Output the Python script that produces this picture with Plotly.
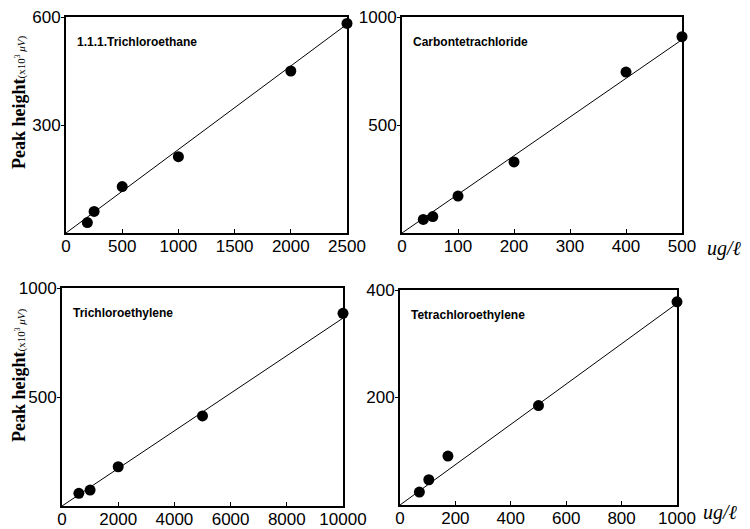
import plotly.graph_objects as go

# ---- data ----
tca_x = [190, 250, 500, 1000, 2000, 2500]
tca_y = [29, 60, 129, 212, 450, 582]
tca_fit_x = [0, 2500]
tca_fit_y = [0, 580]

ctc_x = [38, 55, 100, 200, 400, 500]
ctc_y = [63, 76, 171, 329, 745, 909]
ctc_fit_x = [0, 500]
ctc_fit_y = [0, 895]

tce_x = [600, 1000, 2000, 5000, 10000]
tce_y = [58, 73, 180, 413, 884]
tce_fit_x = [0, 10000]
tce_fit_y = [0, 862]

pce_x = [70, 104, 173, 500, 1000]
pce_y = [24, 47, 91, 185, 378]
pce_fit_x = [0, 1000]
pce_fit_y = [0, 375]

titles = ["1.1.1.Trichloroethane", "Carbontetrachloride", "Trichloroethylene", "Tetrachloroethylene"]
x_ticks = [[0, 500, 1000, 1500, 2000, 2500], [0, 100, 200, 300, 400, 500],
           [0, 2000, 4000, 6000, 8000, 10000], [0, 200, 400, 600, 800, 1000]]
y_ticks = [[300, 600], [500, 1000], [500, 1000], [200, 400]]
x_ranges = [[0, 2500], [0, 500], [0, 10000], [0, 1000]]
y_ranges = [[0, 600], [0, 1000], [0, 1000], [0, 400]]

# page body has an 8px margin; figure is sized to fit the window
OFF = 8
W, H = 750 - OFF, 529 - OFF
# pixel boxes in window coords: left, right, top, bottom
boxes = [(66, 347, 17, 233), (402, 682, 17, 233), (62, 343, 288, 506), (400, 677, 290, 505)]

def fx_(px):
    return (px - OFF) / W

def fy_(py):
    return 1 - (py - OFF) / H

series = [(tca_x, tca_y, tca_fit_x, tca_fit_y), (ctc_x, ctc_y, ctc_fit_x, ctc_fit_y),
          (tce_x, tce_y, tce_fit_x, tce_fit_y), (pce_x, pce_y, pce_fit_x, pce_fit_y)]

fig = go.Figure()
font_tick = dict(family="Liberation Sans, Arial, sans-serif", size=17, color="black")

for i, ((px, py, fx, fy), (l, r, t, b)) in enumerate(zip(series, boxes)):
    n = "" if i == 0 else str(i + 1)
    xa, ya = "x" + n, "y" + n
    fig.add_trace(go.Scatter(x=fx, y=fy, mode="lines", line=dict(color="black", width=1),
                             xaxis=xa, yaxis=ya, showlegend=False, hoverinfo="skip"))
    fig.add_trace(go.Scatter(x=px, y=py, mode="markers", marker=dict(color="black", size=11),
                             xaxis=xa, yaxis=ya, showlegend=False, cliponaxis=False))
    fig.layout["xaxis" + n] = dict(
        domain=[fx_(l), fx_(r)], range=x_ranges[i], anchor=ya, tickvals=x_ticks[i],
        ticktext=[str(v) for v in x_ticks[i]], automargin=False, ticklabeloverflow="allow",
        showgrid=False, zeroline=False, showline=True, linecolor="black", linewidth=2,
        mirror=True, ticks="inside", ticklen=4, tickcolor="black", tickfont=font_tick,
        ticklabelstandoff=-3)
    fig.layout["yaxis" + n] = dict(
        domain=[fy_(b), fy_(t)], range=y_ranges[i], anchor=xa, tickvals=y_ticks[i],
        ticktext=[str(v) for v in y_ticks[i]], automargin=False, ticklabeloverflow="allow",
        showgrid=False, zeroline=False, showline=True, linecolor="black", linewidth=2,
        mirror=True, ticks="outside", ticklen=3, tickcolor="black", tickfont=font_tick,
        ticklabelstandoff=-3)
    fig.add_annotation(x=fx_(l + 9), y=fy_(t + 25), xref="paper", yref="paper",
                       text="<b>" + titles[i] + "</b>", showarrow=False,
                       xanchor="left", yanchor="middle",
                       font=dict(family="Liberation Sans, Arial, sans-serif", size=12, color="black"))

ytitle = ("<b>Peak height</b><span style='font-size:11px'>(x10<sup>3</sup> "
          "<i>μV</i>)</span>")
for yc in [102, 375]:
    fig.add_annotation(x=fx_(19), y=fy_(yc), xref="paper", yref="paper", text=ytitle,
                       textangle=-90, showarrow=False, xanchor="center", yanchor="middle",
                       font=dict(family="Liberation Serif, Times New Roman, serif", size=18, color="black"))

for xc, yc in [(724, 249), (720, 512)]:
    fig.add_annotation(x=fx_(xc), y=fy_(yc), xref="paper", yref="paper",
                       text="<i>ug/ℓ</i>", showarrow=False, xanchor="center", yanchor="middle",
                       font=dict(family="Liberation Serif, Times New Roman, serif", size=20, color="black"))

fig.update_layout(width=W, height=H, margin=dict(l=0, r=0, t=0, b=0),
                  plot_bgcolor="white", paper_bgcolor="white")
fig.write_html("out.html")
